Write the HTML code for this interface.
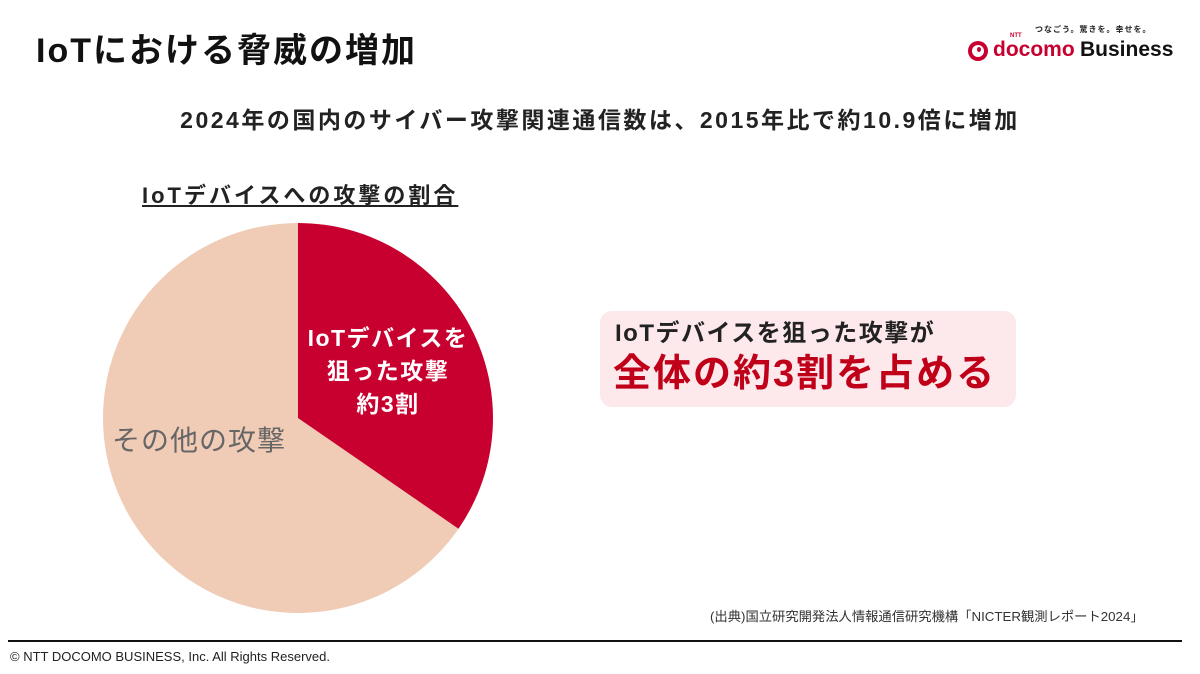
<!DOCTYPE html>
<html><head><meta charset="utf-8"><style>
body{margin:0;width:1200px;height:674px;background:#fff;position:relative;overflow:hidden;font-family:"Liberation Sans","Noto Sans CJK JP",sans-serif;}
.a{position:absolute;white-space:nowrap;}
</style></head><body>
<div class="a" style="left:36px;top:23px;font-size:34px;font-weight:bold;color:#111;letter-spacing:2px;">IoTにおける脅威の増加</div>
<div class="a" style="left:1035px;top:24px;font-size:8px;font-weight:bold;color:#222;letter-spacing:1px;">つなごう。驚きを。幸せを。</div>
<div class="a" style="left:968px;top:41px;width:20px;height:20px;border-radius:50%;background:#c8002f;"></div>
<div class="a" style="left:972px;top:45px;width:12px;height:12px;border-radius:50%;background:#fff;"></div>
<div class="a" style="left:977px;top:47px;width:4px;height:5px;border-radius:50%;background:#c8002f;"></div>
<div class="a" style="left:993px;top:38px;font-size:21px;font-weight:bold;color:#c8002f;">docomo</div>
<div class="a" style="left:1010px;top:33px;font-size:6px;font-weight:bold;color:#c8002f;">NTT</div>
<div class="a" style="left:1080px;top:38px;font-size:21px;font-weight:bold;color:#111;">Business</div>
<div class="a" style="left:0;width:1200px;text-align:center;top:101px;font-size:23px;font-weight:bold;color:#222;letter-spacing:2.5px;">2024年の国内のサイバー攻撃関連通信数は、2015年比で約10.9倍に増加</div>
<div class="a" style="left:142px;top:178px;font-size:22px;font-weight:bold;color:#222;text-decoration:underline;letter-spacing:3px;">IoTデバイスへの攻撃の割合</div>
<svg class="a" style="left:0;top:0" width="1200" height="674">
<circle cx="298" cy="418" r="195" fill="#f0cbb5"/>
<path d="M298,418 L298,223 A195,195 0 0 1 458.5,528.7 Z" fill="#c8002f"/>
<line x1="8" y1="641" x2="1182" y2="641" stroke="#111" stroke-width="2"/>
</svg>
<div class="a" style="left:298px;top:322px;width:180px;text-align:center;font-size:23px;font-weight:bold;color:#fff;line-height:33px;letter-spacing:1.5px;">IoTデバイスを<br>狙った攻撃<br>約3割</div>
<div class="a" style="left:112px;top:419px;font-size:28px;color:#666;letter-spacing:1px;">その他の攻撃</div>
<div class="a" style="left:600px;top:311px;width:416px;height:96px;background:#fde8ec;border-radius:12px;"></div>
<div class="a" style="left:615px;top:313px;font-size:24px;font-weight:bold;color:#222;letter-spacing:1.5px;">IoTデバイスを狙った攻撃が</div>
<div class="a" style="left:613px;top:342px;font-size:38px;font-weight:bold;color:#c00018;letter-spacing:2px;">全体の約3割を占める</div>
<div class="a" style="left:710px;top:606px;font-size:13.3px;color:#333;">(出典)国立研究開発法人情報通信研究機構「NICTER観測レポート2024」</div>
<div class="a" style="left:10px;top:649px;font-size:13px;color:#222;">© NTT DOCOMO BUSINESS, Inc. All Rights Reserved.</div>
</body></html>
